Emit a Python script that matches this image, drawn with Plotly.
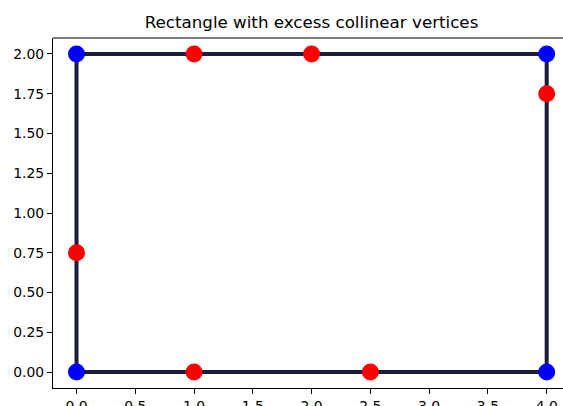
import plotly.graph_objects as go

# Polygon vertices in drawing order
vx = [0, 1, 2.5, 4, 4, 4, 2, 1, 0, 0]
vy = [0, 0, 0, 0, 1.75, 2, 2, 2, 2, 0.75]
# Corner vertices (blue) and excess collinear vertices (red)
corner_x = [0, 4, 4, 0]
corner_y = [0, 0, 2, 2]
excess_x = [1, 2.5, 4, 2, 1, 0]
excess_y = [0, 0, 1.75, 2, 2, 0.75]

title_text = "Rectangle with excess collinear vertices"

fig = go.Figure()
fig.add_trace(go.Scatter(x=vx + [vx[0]], y=vy + [vy[0]], mode="lines",
                         line=dict(color="#1c1c40", width=4), hoverinfo="skip"))
fig.add_trace(go.Scatter(x=excess_x, y=excess_y, mode="markers",
                         marker=dict(color="red", size=17, line=dict(width=0))))
fig.add_trace(go.Scatter(x=corner_x, y=corner_y, mode="markers",
                         marker=dict(color="blue", size=17, line=dict(width=0))))

font = "DejaVu Sans"
fig.update_layout(
    width=563, height=406,
    margin=dict(l=53, r=0, t=38, b=18, autoexpand=False),
    paper_bgcolor="white", plot_bgcolor="white",
    showlegend=False,
    title=dict(text=title_text, x=311.5 / 563, xanchor="center",
               y=1 - 22 / 406, yanchor="middle",
               font=dict(family=font, size=16.7, color="black")),
    font=dict(family=font, size=13.9, color="black"),
    xaxis=dict(range=[-0.2, 4.0 + (563 - 546.7) / 117.5], tick0=0, dtick=0.5,
               tickformat=".1f", showgrid=False, zeroline=False, automargin=False,
               showline=True, linecolor="black", linewidth=1.1,
               ticks="outside", ticklen=5, tickwidth=1.1, tickcolor="black"),
    yaxis=dict(range=[-0.1, 2.1], tick0=0, dtick=0.25, tickformat=".2f",
               showgrid=False, zeroline=False, automargin=False,
               showline=True, linecolor="black", linewidth=1.1,
               ticks="outside", ticklen=5, tickwidth=1.1, tickcolor="black"),
    shapes=[dict(type="line", xref="paper", yref="paper", x0=0, x1=1, y0=1, y1=1,
                 line=dict(color="black", width=1.1))],
)
fig.write_html("out.html")
